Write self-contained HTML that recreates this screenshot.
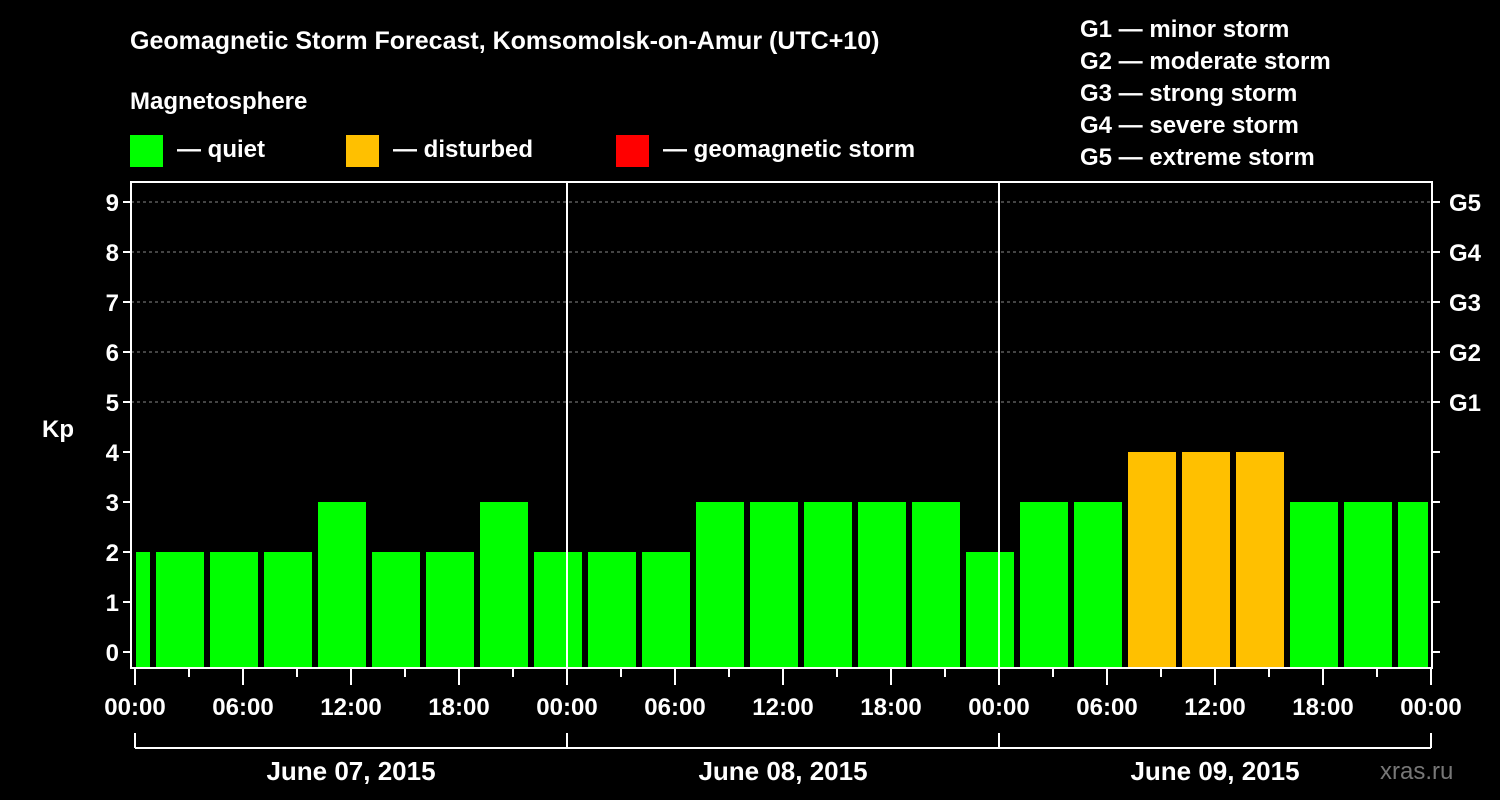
<!DOCTYPE html>
<html><head><meta charset="utf-8"><style>
body{margin:0;background:#000;}
svg{display:block;font-family:"Liberation Sans",Arial,sans-serif;font-weight:bold;}
</style></head><body>
<svg id="chart" width="1500" height="800" viewBox="0 0 1500 800">
<rect x="0" y="0" width="1500" height="800" fill="#000"/>
<text x="130" y="49" fill="#fff" font-size="25">Geomagnetic Storm Forecast, Komsomolsk-on-Amur (UTC+10)</text>
<text x="130" y="109" fill="#fff" font-size="24">Magnetosphere</text>
<g><rect x="130" y="135" width="33" height="32" fill="#00ff00"/><text x="177" y="157" fill="#fff" font-size="24">— quiet</text></g>
<g><rect x="346" y="135" width="33" height="32" fill="#ffc000"/><text x="393" y="157" fill="#fff" font-size="24">— disturbed</text></g>
<g><rect x="616" y="135" width="33" height="32" fill="#ff0000"/><text x="663" y="157" fill="#fff" font-size="24">— geomagnetic storm</text></g>
<g fill="#fff" font-size="24">
<text x="1080" y="37">G1 — minor storm</text>
<text x="1080" y="69">G2 — moderate storm</text>
<text x="1080" y="101">G3 — strong storm</text>
<text x="1080" y="133">G4 — severe storm</text>
<text x="1080" y="165">G5 — extreme storm</text>
</g>
<g id="plot"></g>
<text x="1380" y="779" fill="#777" font-size="24" font-weight="normal">xras.ru</text>
</svg>
<script>
const kpValues=[2,2,2,2,3,2,2,3,2,2,2,3,3,3,3,3,2,3,3,4,4,4,3,3,3];
const kpTicks=[0,1,2,3,4,5,6,7,8,9];
const gLabels=["G1","G2","G3","G4","G5"];
const hourLabels=["00:00","06:00","12:00","18:00"];
const dayLabels=["June 07, 2015","June 08, 2015","June 09, 2015"];
const X0=131,X1=1432,Y0=182,Y1=668,T0=135,PXH=18;
const xh=h=>T0+h*PXH;
const yk=k=>652-k*50;
const NS="http://www.w3.org/2000/svg";
const g=document.getElementById('plot');
function mk(t,a,txt){const e=document.createElementNS(NS,t);for(const k in a)e.setAttribute(k,a[k]);if(txt!=null)e.textContent=txt;g.appendChild(e);return e;}
// grid
for(let k=5;k<=9;k++){
 const l=mk('line',{x1:X0,x2:X1,y1:yk(k),y2:yk(k),stroke:'#888','stroke-dasharray':'3,3','stroke-width':1});
 
 
}
// bars
kpValues.forEach((v,i)=>{
 let s=xh(-2+i*3)+3, e=xh(1+i*3)-3;
 s=Math.max(s,X0+5); e=Math.min(e,X1-4);
 const c=v>=5?'#ff0000':(v>=4?'#ffc000':'#00ff00');
 const r=mk('rect',{x:s,y:yk(v),width:e-s,height:Y1-1-yk(v),fill:c});
 
 
});
// day lines
for(let d=1;d<=2;d++){
 const l=mk('line',{x1:xh(d*24),x2:xh(d*24),y1:Y0,y2:Y1,stroke:'#fff','stroke-width':2});
 
 
}
// frame
const fr=mk('rect',{x:X0,y:Y0,width:X1-X0,height:Y1-Y0,fill:'none',stroke:'#fff','stroke-width':2});


// y ticks
kpTicks.forEach(k=>{
 mk('line',{x1:X0-8,x2:X0,y1:yk(k),y2:yk(k),stroke:'#fff','stroke-width':2});
 mk('line',{x1:X1,x2:X1+8,y1:yk(k),y2:yk(k),stroke:'#fff','stroke-width':2});
 const t=mk('text',{x:X0-12,y:yk(k)+9,fill:'#fff','font-size':24,'text-anchor':'end'},k);
 
 
});
gLabels.forEach((s,i)=>{
 const t=mk('text',{x:1449,y:yk(5+i)+9,fill:'#fff','font-size':24},s);
 
 
});
const yt=mk('text',{x:42,y:437,fill:'#fff','font-size':24},'Kp');


// x ticks
for(let h=0;h<=72;h+=3){
 const major=h%6===0;
 mk('line',{x1:xh(h),x2:xh(h),y1:Y1,y2:Y1+(major?17:9),stroke:'#fff','stroke-width':2});
 if(major){
  const t=mk('text',{x:xh(h),y:715,fill:'#fff','font-size':24,'text-anchor':'middle'},hourLabels[(h/6)%4]);
  
  
 }
}
mk('line',{x1:xh(0),x2:xh(72),y1:748,y2:748,stroke:'#fff','stroke-width':2});
for(let d=0;d<=3;d++) mk('line',{x1:xh(d*24),x2:xh(d*24),y1:733,y2:748,stroke:'#fff','stroke-width':2});
dayLabels.forEach((s,i)=>{
 const t=mk('text',{x:xh(i*24+12),y:780,fill:'#fff','font-size':26,'text-anchor':'middle'},s);
 
 
});
</script>
</body></html>
